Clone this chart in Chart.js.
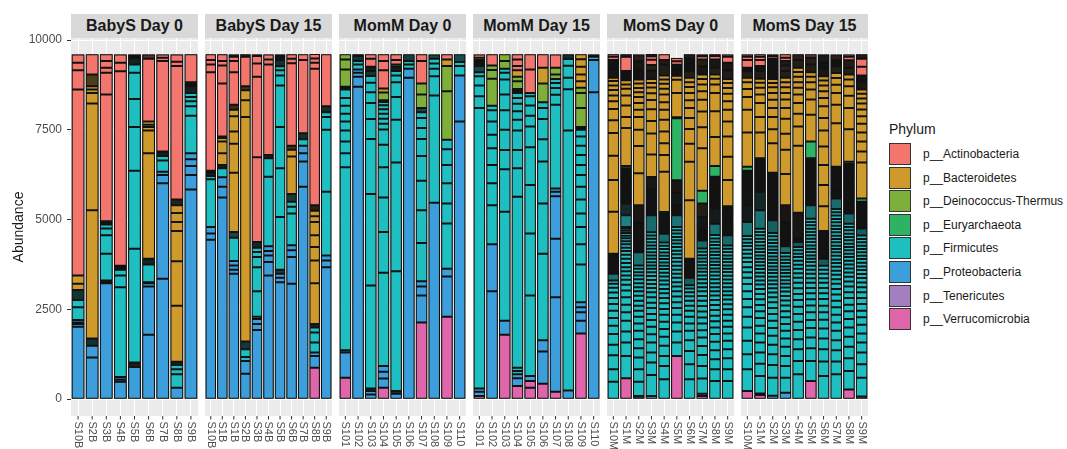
<!DOCTYPE html>
<html>
<head>
<meta charset="utf-8">
<script src="https://cdn.jsdelivr.net/npm/chart.js@4.4.1/dist/chart.umd.min.js"></script>
<style>
  body { margin: 0; background: #fff; font-family: "Liberation Sans", Arial, sans-serif; }
  #wrap { position: relative; width: 1067px; height: 449px; overflow: hidden; }
  canvas { position: absolute; top: 30px; }
  .strip { position: absolute; top: 14px; height: 24px; width: 127px; background: #D9D9D9; color: #1A1A1A;
           font-weight: bold; font-size: 16px; line-height: 24px; text-align: center; }
  .lg-title { position: absolute; left: 889px; top: 121px; font-size: 14px; color: #1A1A1A; }
  .lg-key { position: absolute; left: 889px; width: 22px; height: 22px; box-sizing: border-box; border: 1px solid #333; }
  .lg-lab { position: absolute; left: 923px; font-size: 12px; line-height: 22px; color: #1A1A1A; }
</style>
</head>
<body>
<div id="wrap"></div>
<script>
// phylum order as in the legend, one letter code each
const phyla = ['p__Actinobacteria', 'p__Bacteroidetes', 'p__Deinococcus-Thermus', 'p__Euryarchaeota',
  'p__Firmicutes', 'p__Proteobacteria', 'p__Tenericutes', 'p__Verrucomicrobia'];
const phylumCodes = 'ABDEFPTV';
const phylumColors = ['#F2766E', '#CF9A2C', '#7EAF3A', '#2DB363', '#1EBEC1', '#3C9EDB', '#A37FBF', '#E066AB'];

const panelTitles = ['BabyS Day 0', 'BabyS Day 15', 'MomM Day 0', 'MomM Day 15', 'MomS Day 0', 'MomS Day 15'];
const yTicks = [0, 2500, 5000, 7500, 10000];

const babyS0Samples = ['S10B', 'S2B', 'S3B', 'S4B', 'S5B', 'S6B', 'S7B', 'S8B', 'S9B'];
const babyS15Samples = ['S10B', 'S1B', 'S1B', 'S2B', 'S3B', 'S4B', 'S5B', 'S6B', 'S7B', 'S8B', 'S9B'];
const momM0Samples = ['S101', 'S102', 'S103', 'S104', 'S105', 'S106', 'S107', 'S108', 'S109', 'S110'];
const momM15Samples = ['S101', 'S102', 'S103', 'S104', 'S105', 'S106', 'S107', 'S108', 'S109', 'S110'];
const momS0Samples = ['S10M', 'S1M', 'S2M', 'S3M', 'S4M', 'S5M', 'S6M', 'S7M', 'S8M', 'S9M'];
const momS15Samples = ['S10M', 'S1M', 'S2M', 'S3M', 'S4M', 'S5M', 'S6M', 'S7M', 'S8M', 'S9M'];

// one string per sample, OTU abundances from bottom to top: <phylum><abundance>[/<number of tiny OTUs merged>]
const babyS0 = [
  'P2016 P75 P47 P65 F355 F205 F280/8 B168 B233 A5180 A541 A205 A233',
  'P1157 P327 F205/6 B3575 B2968 B299 B93 B93 B327/8 A560',
  'P3229 F75/3 F747 F513 F187 F112 F93/4 A3528 A607 A140 A187 A187',
  'P485 P65 P65 F2501 F327 F159 F112/4 A5423 A233 A233',
  'P896 F121/4 F3173 F2175 F1213 F784 F728 F233 F187/6 F93/4',
  'P1792 P1344 P93 F28/2 F495 F159/5 B2940 B635 B93 B65 B93 A1745 A121/3',
  'P3351 P2660 P233 P93 F308 F131 F121/4 A2520 A93 A93',
  'P317 F373 F140 F121 F93/3 B1559 B1241 B840 B252 B252 B215 B159/5 A3715 A121 A205',
  'P5843 P401 P252 P187 P168 F1045 F261 F140 F121 F112 F187/6 F112/4 A775'
];
const babyS15 = [
  'P4443 P168 P187 F1325 F93 F93/3 F56/2 A2744 A215 A121 A159',
  'P5619 P299 P261 F252 F93/3 B327 B327 B93 B47/2 A1475 A504 A121 A187',
  'P3491 P112 P121 P121 F653 F159/4 B1652 B803 B345 B420 B187 B140/4 A905 A308 A121 A65/2',
  'P709 P355 F112 F215 F215/6 B6253 B467 B280 B112/3 A821 A65/2',
  'P1923 P168 P140 F65 F709 F672 F280 F140 F121 F159/5 A2361 A2240 A373 A205 A47/2',
  'P3444 P373 P187 P121 P131 F1941 F513 F93/3 A2520 A140 A140',
  'P3257 P121 P112 F112/3 F1475 F1353 F1148 F1157 F280 F149 F112 F168/5 F159/6',
  'P3211 P747 P187 P140 F887 F187 F140 F215/6 B1045 B187 B112/3 A2296 A131 A121',
  'P5917 P700 P233 P205 F187 F168/5 A2035 A159',
  'V877 P327 P93 F280 F280 F140 F93/3 B1139 B635 B373 B327 B373 B159 B149 B159/5 A3799 A168 A121 A121',
  'P3677 P187 P140 F1773 F1727 F355 F131 F168/5 A1447'
];
const momM0 = [
  'V597 P700 P65 F5096 F392 F327 F308 F252 F215 F224 F215 F233 F75/3 D485 D280 D140',
  'P8699 P280 P112 P93 F140 F93 F140/4 A47',
  'P131 P93 P75/2 F2865 F2548 F1531 F560 F448 F299 F261 F187 F140/4 F121/4 A224 A121',
  'V317 P261 P187 P159 F2595 F1139 F961 F840 F625 F429 F159 F140 F140 F121 F112 F93 F47/2 D215 B112 A513 A252 A187',
  'P149 P75/2 F3341 F3024 F1195 F635 F411 F187 F121 F121/4 D65 A121 A159',
  'P8951 P252 F121 F93 F187/5',
  'V2137 P747 P252 P149 F1064 F915 F821 F691 F467 F308 F280 F159 F121/3 D373 D308 A625 A187',
  'P5469 F2987 F541 F205 F149 F131 F121/3',
  'V2296 P1120 P215 F1260 F560 F560 F513 F439 F261 D1353 D700 B187 A140',
  'P7737 P1279 F261 F112 F215/5'
];
const momM15 = [
  'V84 P121 P93 F7812 F327 F299 F261 F112 F168/4 F168/6 D65 A93',
  'P3005 P1307 F1092 F607 F513 F467 F373 F373 F308 F131 D747 D243 D131 A308',
  'V1792 P392 F3033 F1185 F541 F560 F541 F439 F420 F187 F112 D215 D187',
  'V364 P215 P112 F93 F93 F4760 F793 F513 F541 F299 F233 F215 F159 F140 F112/4 D215 D121 B187 A112 A187 A140',
  'V317 V187 P140 F2240 F1727 F1353 F1055 F579 F299 F280 F261 F93 A653 A420',
  'V429 P896 P317 F2408 F1400 F1167 F625 F560 F308 F159 D523 B439 A373',
  'V205 P2632 P1633 P1185 P121 P93 F2333 F280 F187 F140 F112 D121 D187 A373',
  'P243 F7242 F1148 F317 F336 F187 F131/4',
  'V1829 P355 P233 P140 P140 F1055 F560 F485 F373 F392 F355 F327 F280 F280 F252 F261 F187 F75/3 D532 D420 D140 B187 B187 B215 B205 B140',
  'P8549 P896 F93 F65/2'
];
const momS0 = [
  'F485 F345 F392 F290 F300 F233 F215 F205 F187 F168 F149 F131 F112 F93 F187/3 F187/7 F373/16 B1167 B887 B672 B635 B355 B317 B215 B159 B149 B131 B121 B93 B233/8 B261/10 A93 A65',
  'V579 F625 F373 F308 F299 F233 F215 F205 F187 F159 F140 F121 F121 F112 F112 F121 F112 F103 F93 F93 F84 F84 F75 F75 F65 F56 F48 F327/4 F327/10 F490/25 B490/25 E65 B1055 B308 B317 B280 B187 B121 B121 B159/6 B93/4 A401 A65/2',
  'P84/2 F401 F345 F327 F261 F252 F233 F205 F187 F168 F140 F140 F140 F121 F112 F112 F112 F103 F93 F93 F93 F373/6 F327/12 F490/18 B490/17 B887 B765 B448 B355 B205 B187 B168 B131 B121 B121 B112 B280/10 B233/8 A187/6',
  'P84 F588 F345 F280 F280 F233 F205 F187 F168 F168 F149 F149 F140 F121 F112 F112 F112 F103 F93 F93 F93 F93 F93 F93 F93 F93 F93 F93 F93 F93 F467/8 F373/14 F349/13 B349/12 B625 B588 B345 B327 B261 B187 B159 B121 B112 B233/8 B159/5 A149 A93 A65/2',
  'F551 F373 F280 F280 F252 F215 F205 F196 F159 F159 F149 F131 F121 F121 F112 F112 F103 F103 F93 F93 F93 F93 F93 F93 F93 F93 F243/4 F280/10 B327/12 B1120 B467 B327 B327 B327 B280 B205 B215 B159 B140 B121 B112 B308/10 B121/4 A159',
  'V1204 F373 F308 F252 F215 F187 F159 F159 F149 F131 F121 F121 F112 F112 F112 F112 F103 F103 F103 F103 F93 F93 F93 F93 F93 F93 F327/5 F280/10 F347/12 B347/12 E1727 B28/1 B672 B373 B112 B168/6 B140/5 A93 A93',
  'F551 F420 F373 F299 F261 F205 F187 F168 F140 F140 F121 F112 F103 F93 F205/4 F205/10 B327/12 B1633 B1073 B495 B411 B308 B280 B215 B205 B168 B131 B121 B187/6 B215/8 A131/5 A121/4',
  'V84 P65 F429 F345 F308 F252 F233 F205 F187 F168 F168 F149 F149 F131 F131 F112 F112 F112 F103 F103 F93 F93 F93 F93 F93 F93 F93 F224/4 F280/10 F374/13 B373/12 E355 B1185 B588 B439 B327 B233 B187 B159 B121 B233/8 B187/6 A93 A47',
  'F504 F327 F280 F252 F233 F215 F187 F168 F159 F159 F140 F140 F121 F121 F112 F112 F112 F103 F103 F93 F93 F93 F93 F93 F93 F93 F93 F93 F93 F93 F317/5 F420/14 F445/16 B444/16 E299 B803 B719 B513 B233 B159 B121 B187/6 B233/8 A93 A47',
  'F504 F327 F308 F252 F233 F205 F187 F168 F168 F149 F140 F131 F121 F112 F112 F112 F103 F103 F103 F93 F93 F93 F93 F93 F93 F93 F93 F280/5 F373/14 B439/16 B728 B653 B560 B420 B327 B233 B215 B159 B140 B112 B243/8 A205/7 A168 A65'
];
const momS15 = [
  'V224 F607 F420 F373 F373 F299 F261 F233 F215 F205 F168 F159 F140 F140 F121 F112 F112 F103 F93 F93 F93 F392/6 F467/16 F481/17 B480/18 E112 B952 B635 B355 B224 B187 B121 B187/6 B93/4 A215 A93 A65',
  'V112 T47 F485 F345 F308 F280 F252 F215 F215 F187 F177 F159 F149 F140 F121 F112 F112 F103 F103 F103 F93 F93 F93 F93 F93 F93 F93 F93 F93 F93 F93 F513/8 F513/16 F469/17 B468/17 B719 B429 B392 B233 B187 B140 B112 B215/7 B140/5 A168 A93 A65',
  'P93 F504 F355 F299 F261 F252 F215 F205 F187 F168 F159 F140 F131 F121 F112 F103 F103 F103 F93 F93 F93 F93 F93 F93 F93 F93 F93 F93 F93 F93 F355/7 F373/14 F476/17 B476/17 B821 B392 B336 B252 B233 B187 B159 B121 B112 B280/10 B280/10 A75 A47',
  'P177 F420 F327 F280 F252 F233 F215 F187 F187 F168 F159 F140 F131 F121 F112 F103 F103 F103 F93 F93 F93 F93 F93 F93 F93 F187/3 F168/6 F490/18 B490/17 B868 B672 B448 B420 B299 B233 B187 B159 B140 B121 B187/6 B159/5 A121/4 A93 A93',
  'F691 F373 F327 F280 F252 F233 F215 F205 F187 F168 F159 F149 F140 F131 F121 F112 F112 F103 F93 F93 F93 F140/3 F93/4 B719/25 B1867 B541 B355 B299 B233 B187 B159 B149 B131 B121 B215/7 A159/5',
  'V504 F560 F355 F299 F261 F224 F215 F187 F177 F168 F149 F140 F131 F121 F112 F112 F103 F93 F93 F93 F93 F93 F93 F93 F93 F93 F93 F93 F93 F93 F373/6 F420/15 F445/16 B445/16 E467 B747 B420 B280 B205 B149 B131 B215/7 B187/6 A93/2',
  'F644 F401 F345 F299 F280 F243 F205 F187 F187 F159 F149 F140 F131 F121 F112 F112 F196/4 F233/9 B541/20 B691 B588 B560 B513 B448 B345 B327 B233 B187 B159 B140 B121 B205/7 B168/6 A233/8',
  'F691 F355 F317 F280 F261 F233 F215 F205 F187 F168 F159 F140 F131 F121 F112 F112 F103 F103 F103 F93 F93 F93 F93 F93 F93 F93 F93 F93 F93 F93 F93 F93 F93 F289/5 F233/9 F327/12 B326/12 B1213 B513 B327 B233 B187 B140 B187/6 B168/6 A159/5',
  'V271 F513 F355 F317 F280 F261 F233 F215 F187 F187 F159 F159 F140 F131 F121 F112 F112 F103 F103 F93 F93 F93 F93 F93 F93 F93 F93 F93 F93 F280/5 F280/10 F551/20 B550/20 E65 B905 B588 B345 B261 B187 B140 B187/6 B215/7 A93 A65',
  'V75 F523 F373 F327 F280 F252 F243 F205 F187 F187 F168 F159 F140 F131 F121 F112 F112 F103 F103 F103 F93 F93 F93 F93 F93 F93 F93 F196/4 F187/8 B560/20 E93 B999 B308 B280 B252 B243 B205 B187 B168 B140 B131 B121 B233/8 B159/6 A243 A224 A121/4'
];

const panels = [
  [babyS0Samples, babyS0], [babyS15Samples, babyS15], [momM0Samples, momM0],
  [momM15Samples, momM15], [momS0Samples, momS0], [momS15Samples, momS15]
];

const UNITS_PER_PX = 28;   // roughly one pixel of bar height
const OUTLINE = '#121212';

function parseBar(str) {
  return str.trim().split(/\s+/).map(t => {
    const m = t.match(/^([A-Z])(\d+)(?:\/(\d+))?$/);
    return { p: phylumCodes.indexOf(m[1]), v: +m[2], n: m[3] ? +m[3] : 0 };
  });
}

// many tiny OTUs stacked together look dark because their outlines dominate
function segColor(seg) {
  const hex = phylumColors[seg.p];
  if (!seg.n) return hex;
  const num = parseInt(hex.slice(1), 16);
  const rgb = [num >> 16 & 255, num >> 8 & 255, num & 255];
  const px = seg.v / seg.n / UNITS_PER_PX;
  const f = px > 1 ? (px - 1) / px : 0;
  return 'rgb(' + rgb.map(c => Math.round(c * f + 18 * (1 - f))).join(',') + ')';
}

const panelPlugin = {
  id: 'panel',
  beforeDraw(chart) {
    const { ctx, chartArea: a } = chart;
    ctx.save();
    ctx.fillStyle = '#EBEBEB';
    ctx.fillRect(a.left, a.top, a.right - a.left, a.bottom - a.top);
    ctx.restore();
  },
  // dark backing under every stack so antialiased seams between OTUs stay black
  beforeDatasetsDraw(chart) {
    const ctx = chart.ctx;
    ctx.save();
    ctx.fillStyle = OUTLINE;
    chart.data.labels.forEach((lab, i) => {
      let top = Infinity, bottom = -Infinity, cx = 0, w = 0;
      chart.data.datasets.forEach((ds, k) => {
        if (ds.data[i] == null) return;
        const el = chart.getDatasetMeta(k).data[i];
        top = Math.min(top, el.y, el.base);
        bottom = Math.max(bottom, el.y, el.base);
        cx = el.x;
        w = el.width;
      });
      if (w) ctx.fillRect(cx - w / 2, top, w, bottom - top);
    });
    ctx.restore();
  },
  afterDraw(chart) {
    const { ctx, chartArea: a, scales: { x } } = chart;
    ctx.save();
    ctx.strokeStyle = '#333333';
    ctx.lineWidth = 1;
    ctx.fillStyle = '#4D4D4D';
    ctx.font = '11px "Liberation Sans"';
    ctx.textBaseline = 'middle';
    ctx.textAlign = 'left';
    chart.data.labels.forEach((lab, i) => {
      const px = x.getPixelForValue(i);
      ctx.beginPath();
      ctx.moveTo(px, a.bottom);
      ctx.lineTo(px, a.bottom + 3.5);
      ctx.stroke();
      ctx.save();
      ctx.translate(px, a.bottom + 5.5);
      ctx.rotate(Math.PI / 2);
      ctx.fillText(lab, 0, 0);
      ctx.restore();
    });
    ctx.restore();
  }
};

function makePanel(canvas, samples, bars, withAxis) {
  const parsed = bars.map(parseBar);
  const depth = Math.max(...parsed.map(b => b.length));
  const datasets = [];
  for (let k = 0; k < depth; k++) {
    datasets.push({
      data: parsed.map(b => b[k] ? b[k].v : null),
      backgroundColor: parsed.map(b => b[k] ? segColor(b[k]) : 'rgba(0,0,0,0)'),
      borderColor: OUTLINE,
      borderWidth: 1,
      borderSkipped: false,
      inflateAmount: 0,
      barPercentage: 0.9,
      categoryPercentage: 1.0,
      stack: 'otu'
    });
  }
  new Chart(canvas, {
    type: 'bar',
    data: { labels: samples, datasets },
    options: {
      responsive: false,
      animation: false,
      layout: { padding: { top: 8, right: 0, bottom: 33, left: 0 } },
      plugins: { legend: { display: false }, tooltip: { enabled: false } },
      scales: {
        x: {
          stacked: true,
          offset: true,
          grid: { offset: false, color: '#FFFFFF', lineWidth: 1, drawTicks: false },
          border: { display: false },
          ticks: { display: false }
        },
        y: {
          stacked: true,
          min: -470,
          max: 10060,
          afterBuildTicks: s => { s.ticks = yTicks.map(v => ({ value: v })); },
          afterFit: s => {
            s.width = withAxis ? 71 : 0;
            s.paddingTop = 0;
            s.paddingBottom = 0;
          },
          grid: { color: '#FFFFFF', lineWidth: 1, tickColor: '#333333', tickLength: 4, drawTicks: withAxis },
          border: { display: false },
          ticks: {
            display: withAxis, color: '#4D4D4D', font: { family: 'Liberation Sans', size: 12 }, padding: 5,
            callback: v => String(v)
          },
          title: {
            display: withAxis, text: 'Abundance', color: '#1A1A1A',
            font: { family: 'Liberation Sans', size: 14 }, padding: { top: 10.5, bottom: 0 }
          }
        }
      }
    },
    plugins: [panelPlugin]
  });
}

window.onload = () => {
  const wrap = document.getElementById('wrap');
  panels.forEach(([samples, bars], i) => {
    const panelLeft = 71 + i * 134;
    const first = i === 0;
    const canvas = document.createElement('canvas');
    canvas.width = first ? 198 : 127;
    canvas.height = 419;
    canvas.style.left = (first ? 0 : panelLeft) + 'px';
    wrap.appendChild(canvas);

    const strip = document.createElement('div');
    strip.className = 'strip';
    strip.style.left = panelLeft + 'px';
    strip.textContent = panelTitles[i];
    wrap.appendChild(strip);

    makePanel(canvas, samples, bars, first);
  });

  const title = document.createElement('div');
  title.className = 'lg-title';
  title.textContent = 'Phylum';
  wrap.appendChild(title);
  phyla.forEach((name, i) => {
    const top = 143 + i * 23.6;
    const key = document.createElement('div');
    key.className = 'lg-key';
    key.style.top = top + 'px';
    key.style.background = phylumColors[i];
    wrap.appendChild(key);
    const lab = document.createElement('div');
    lab.className = 'lg-lab';
    lab.style.top = top + 'px';
    lab.textContent = name;
    wrap.appendChild(lab);
  });
};
</script>
</body>
</html>
